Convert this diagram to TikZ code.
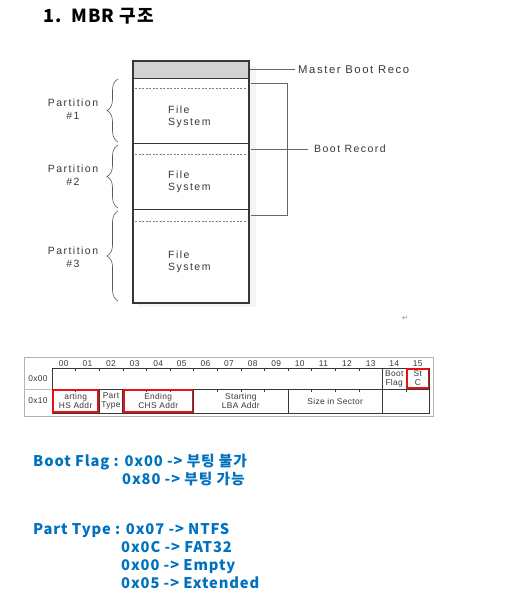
\documentclass[tikz,border=0pt]{standalone}
\usepackage{fontspec}
\usetikzlibrary{decorations.pathreplacing}
\newfontfamily\figfont{Liberation Sans}[LetterSpace=14]
\newfontfamily\tabfont{Liberation Sans}[LetterSpace=4]
\newfontfamily\krfont{Noto Sans CJK KR}[LetterSpace=6]
\newfontfamily\symfont{DejaVu Sans}
\definecolor{mbrblue}{RGB}{0,112,192}
\definecolor{markred}{RGB}{232,16,16}
\definecolor{inkgray}{RGB}{55,55,55}
\tikzset{
	lbl/.style={font=\figfont\fontsize{10.5}{12.5}\selectfont, text=inkgray, inner sep=0pt, align=center},
	tlbl/.style={font=\tabfont\fontsize{8.4}{9}\selectfont, text=inkgray, inner sep=0pt, align=center},
	note/.style={font=\krfont\bfseries\fontsize{14.7}{16}\selectfont, text=mbrblue, anchor=base west, inner sep=0pt},
	head/.style={font=\krfont\bfseries\fontsize{18}{20}\selectfont, anchor=base west, inner sep=0pt},
	lead/.style={draw=gray!80!black, line width=0.6pt},
	redbox/.style={draw=markred, line width=1.6pt},
	brc/.style={draw=gray!70!black, line width=0.6pt, decorate, decoration={brace,amplitude=11pt}}
}
\begin{document}
\begin{tikzpicture}[x=1pt,y=-1pt]
	\useasboundingbox (0,0) rectangle (509,597);
	% titre
	\node[head] (num) at (43,23) {1.};
	\node[head] (title) at (71,23) {MBR 구조};

	% disque
	\fill[gray!8] (249,66) rectangle (256,307);
	\fill[gray!8] (138,303) rectangle (256,307);
	\fill[gray!35] (133,61) rectangle (249,78);
	\foreach \y in {78,143,209}
		\draw[inkgray, line width=0.9pt] (133,\y) -- (249,\y);
	\foreach \y in {88,154,221}
		\draw[gray, line width=0.5pt, dash pattern=on 2pt off 1.5pt] (135,\y) -- (247,\y);
	\draw[inkgray, line width=1.6pt] (133,61) rectangle (249,303);
	\foreach \y/\n in {117/1,182/2,262/3}{
		\node[lbl, align=left, anchor=west] (fs\n) at (168,\y) {File\\System};}

	% accolades
	\foreach \a/\b/\y/\n in {79/142/109/1,145/208/175/2,211/301/257/3}{
		\draw[brc] (118,\b) -- (118,\a);
		\node[lbl] (part\n) at (73,\y) {Partition\\\#\n};}

	% renvois
	\coordinate (mbrend) at (250,69);
	\coordinate (brtop) at (251,83);
	\coordinate (brmid) at (251,149);
	\coordinate (brbot) at (251,215);
	\begin{scope}
		\clip (290,55) rectangle (410,85);
		\node[lbl, font=\figfont\fontsize{11.3}{13}\selectfont, anchor=west] (mbr) at (298,69) {Master Boot Record};
	\end{scope}
	\node[lbl, anchor=west] (br) at (314,149) {Boot Record};
	\draw[lead] (mbrend) -- ([xshift=-3pt]mbr.west);
	\draw[lead] (brtop) -| (287,215) -- (brbot);
	\draw[lead] (brmid) -- ([xshift=-6pt]br.west);
	\node[font=\symfont\fontsize{7}{8}\selectfont, text=gray] (ret) at (405,318) {↵};

	% table MBR
	\draw[gray!60, line width=0.6pt] (24,357) rectangle (433,416);
	\draw[gray!50, line width=0.4pt] (24,389) -- (52,389);
	\foreach \t [count=\i from 0] in {00,01,02,03,04,05,06,07,08,09,10,11,12,13,14,15}{
		\node[tlbl] (h\t) at (52+23.6*\i+11.8,363.5) {\t};
		\draw[inkgray, line width=0.5pt] (52+23.6*\i,368) -- (52+23.6*\i,370.5);
		\draw[inkgray, line width=0.5pt] (52+23.6*\i,389) -- (52+23.6*\i,391.5);}
	\node[tlbl] (r0) at (38,378.5) {0x00};
	\node[tlbl] (r1) at (38,401) {0x10};
	\draw[inkgray, line width=0.9pt] (52,368) rectangle (429.6,413);
	\draw[inkgray, line width=0.9pt] (52,389) -- (429.6,389);
	\foreach \c in {14,15}
		\draw[inkgray, line width=0.9pt] (52+23.6*\c,368) -- (52+23.6*\c,389);
	\foreach \c in {2,3,6,10,14}
		\draw[inkgray, line width=0.9pt] (52+23.6*\c,389) -- (52+23.6*\c,413);
	\node[tlbl] (bflag) at (52+23.6*14.5,378.5) {Boot\\Flag};
	\node[tlbl] (stc) at (52+23.6*15.5,378.5) {St\\C};
	\node[tlbl] (schs) at (52+23.6*1,401) {arting\\HS Addr};
	\node[tlbl] (ptype) at (52+23.6*2.5,401) {Part\\Type};
	\node[tlbl] (echs) at (52+23.6*4.5,401) {Ending\\CHS Addr};
	\node[tlbl] (slba) at (52+23.6*8,401) {Starting\\LBA Addr};
	\node[tlbl] (size) at (52+23.6*12,401) {Size in Sector};
	\draw[redbox] (52+23.6*15+1,369) rectangle (428.6,388);
	\draw[redbox] (53,390) rectangle (52+23.6*2-1,412);
	\draw[redbox] (52+23.6*3+1,390) rectangle (52+23.6*6-1,412);

	% valeurs
	\node[note] (bf0) at (33,466) {Boot Flag : 0x00 -> 부팅 불가};
	\node[note] (bf1) at (122,484) {0x80 -> 부팅 가능};
	\node[note] (pt0) at (33,534) {Part Type : 0x07 -> NTFS};
	\foreach \v/\w [count=\k] in {0x0C/FAT32,0x00/Empty,0x05/Extended}
		\node[note] (pt\k) at (121,534+18*\k) {\v\ -> \w};
\end{tikzpicture}
\end{document}
